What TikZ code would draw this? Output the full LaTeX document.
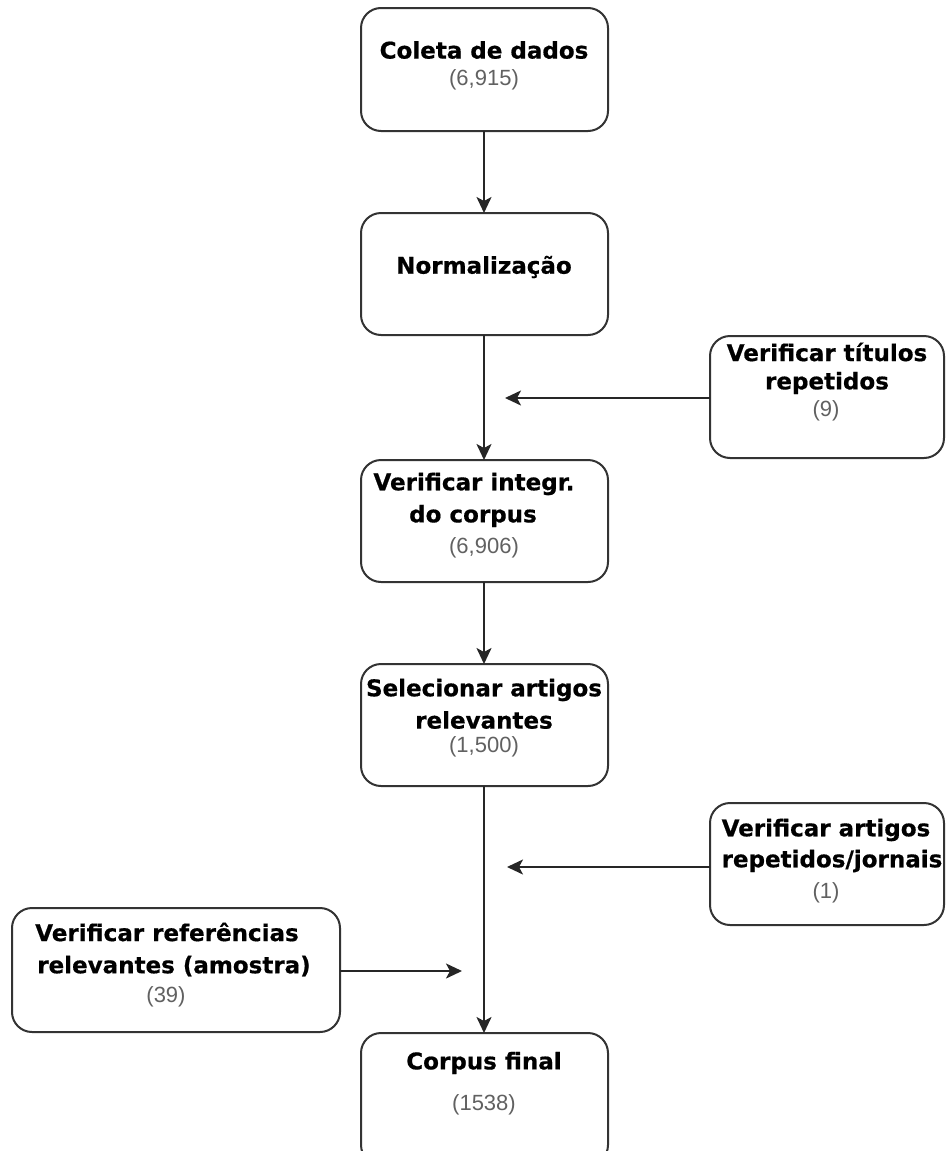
\documentclass[tikz,border=0pt]{standalone}
\usepackage{fontspec}
\setmainfont{DejaVu Sans}
\newfontfamily\ttlfont[FakeBold=0.6]{DejaVu Sans Bold}
\newfontfamily\numfont{Liberation Sans}
\usetikzlibrary{arrows.meta}
\begin{document}
\begin{tikzpicture}[x=1pt,y=-1pt,
  box/.style={draw=black!80,line width=2pt,rounded corners=20pt,fill=white},
  ttl/.style={font=\ttlfont\fontsize{23}{23}\selectfont,text=black,inner sep=0pt,anchor=center},
  num/.style={font=\numfont\fontsize{22}{22}\selectfont,text=black!62,inner sep=0pt,anchor=center},
  conn/.style={line width=2pt,draw=black!85,-{Stealth[length=16pt,width=15pt,inset=4pt]}}]
\useasboundingbox (0,0) rectangle (946,1151);
% main boxes
\draw[box] (361,8) rectangle (608,131) node[pos=0.5] (b1) {};
\draw[box] (361,213) rectangle (608,335) node[pos=0.5] (b2) {};
\draw[box] (361,460) rectangle (608,582) node[pos=0.5] (b3) {};
\draw[box] (361,664) rectangle (608,786) node[pos=0.5] (b4) {};
\draw[box] (361,1033) rectangle (608,1165) node[pos=0.5] (b5) {};
% side boxes
\draw[box] (710,336) rectangle (944,458) node[pos=0.5] (s1) {};
\draw[box] (710,803) rectangle (944,925) node[pos=0.5] (s2) {};
\draw[box] (12,908) rectangle (340,1032) node[pos=0.5] (s3) {};
% anchors
\coordinate (b1b) at (484,131);
\coordinate (b2t) at (484,213);
\coordinate (b2b) at (484,335);
\coordinate (b3t) at (484,460);
\coordinate (b3b) at (484,582);
\coordinate (b4t) at (484,664);
\coordinate (b4b) at (484,786);
\coordinate (b5t) at (484,1033);
\coordinate (s1l) at (710,398);
\coordinate (e1) at (505,398);
\coordinate (s2l) at (710,867);
\coordinate (e2) at (507,867);
\coordinate (s3r) at (340,971);
\coordinate (e3) at (462,971);
% connectors
\draw[conn] (b1b) -- (b2t);
\draw[conn] (b2b) -- (b3t);
\draw[conn] (b3b) -- (b4t);
\draw[conn] (b4b) -- (b5t);
\draw[conn] (s1l) -- (e1);
\draw[conn] (s2l) -- (e2);
\draw[conn] (s3r) -- (e3);
% texts
\node[ttl] (t1) at (484,50) {Coleta de dados};
\node[num] (n1) at (484,80) {(6,915)};
\node[ttl] (t2) at (484,267) {Normalização};
\node[ttl] (t3a) at (827,352) {Verificar títulos};
\node[ttl] (t3b) at (827,383) {repetidos};
\node[num] (n3) at (826,411) {(9)};
\node[ttl] (t4a) at (474,484) {Verificar integr.};
\node[ttl] (t4b) at (473,516) {do corpus};
\node[num] (n4) at (484,548) {(6,906)};
\node[ttl] (t5a) at (484,690) {Selecionar artigos};
\node[ttl] (t5b) at (484,720) {relevantes};
\node[num] (n5) at (484,747) {(1,500)};
\node[ttl] (t6a) at (826,830) {Verificar artigos};
\node[ttl] (t6b) at (832,861) {repetidos/jornais};
\node[num] (n6) at (826,893) {(1)};
\node[ttl] (t7a) at (167,932) {Verificar referências};
\node[ttl] (t7b) at (174,966) {relevantes (amostra)};
\node[num] (n7) at (166,997) {(39)};
\node[ttl] (t8) at (484,1063) {Corpus final};
\node[num] (n8) at (484,1105) {(1538)};
\end{tikzpicture}
\end{document}
